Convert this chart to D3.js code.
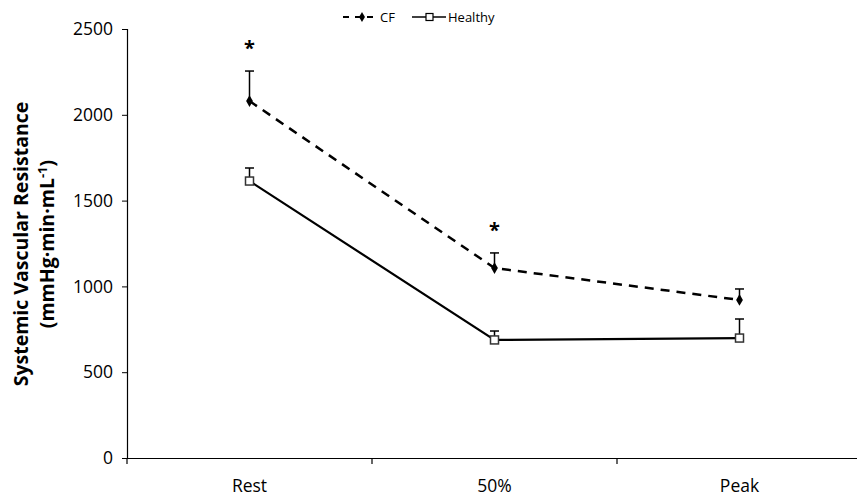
<!DOCTYPE html>
<html>
<head>
<meta charset="utf-8">
<script src="https://cdn.jsdelivr.net/npm/d3@7"></script>
<style>
  body { margin: 0; background: #fff; }
  text { font-family: "Open Sans", sans-serif; }
</style>
</head>
<body>
<div id="chart"></div>
<script>
var categories = ["Rest", "50%", "Peak"];
var cfValues = [2080, 1107, 921];
var cfErrors = [175, 88, 64];
var healthyValues = [1614, 688, 699];
var healthyErrors = [76, 52, 111];
var significant = [true, true, false];
var yTicks = [0, 500, 1000, 1500, 2000, 2500];

var width = 857, height = 502;

var svg = d3.select("#chart").append("svg")
    .attr("width", width)
    .attr("height", height);

var x = d3.scaleBand()
    .domain(categories)
    .range([127, 862]);

var y = d3.scaleLinear()
    .domain([0, 2500])
    .range([458, 29]);

// axes
var yAxis = svg.append("g")
    .attr("transform", "translate(127,0)")
    .call(d3.axisLeft(y).tickValues(yTicks).tickFormat(d3.format("d")).tickSize(5).tickPadding(9));
yAxis.select(".domain").attr("stroke", "#000").attr("stroke-width", 1.2);
yAxis.selectAll("text").style("font-size", "17.5px").attr("fill", "#000");

var xAxis = svg.append("g")
    .attr("transform", "translate(0,458)")
    .call(d3.axisBottom(x).tickSize(0).tickPadding(22));
xAxis.select(".domain").attr("stroke", "#000").attr("stroke-width", 1.2);
xAxis.selectAll("text").style("font-size", "17.5px").attr("fill", "#000");

// category boundary ticks
svg.append("g").selectAll("line")
    .data(categories)
    .join("line")
    .attr("x1", function (d) { return x(d); })
    .attr("x2", function (d) { return x(d); })
    .attr("y1", 458)
    .attr("y2", 464)
    .attr("stroke", "#000")
    .attr("stroke-width", 1.2);

// y title
var title = svg.append("text")
    .attr("transform", "translate(28,244) rotate(-90)")
    .attr("text-anchor", "middle")
    .style("font-size", "19.5px")
    .style("font-weight", "bold");
title.append("tspan").attr("x", 0).attr("dy", 0).text("Systemic Vascular Resistance");
var t2 = title.append("tspan").attr("x", 0).attr("dy", 26).text("(mmHg·min·mL");
title.append("tspan").attr("dy", -7).style("font-size", "13px").text("-1");
title.append("tspan").attr("dy", 7).text(")");

var cx = function (d, i) { return x(categories[i]) + x.bandwidth() / 2; };

function errorBars(values, errors) {
    var g = svg.append("g").attr("stroke", "#000").attr("stroke-width", 1.5);
    values.forEach(function (v, i) {
        var px = cx(null, i);
        g.append("line").attr("x1", px).attr("x2", px)
            .attr("y1", y(v)).attr("y2", y(v + errors[i]));
        g.append("line").attr("x1", px - 4.5).attr("x2", px + 4.5)
            .attr("y1", y(v + errors[i])).attr("y2", y(v + errors[i]));
    });
}
errorBars(cfValues, cfErrors);
errorBars(healthyValues, healthyErrors);

var line = d3.line()
    .x(function (d, i) { return cx(d, i); })
    .y(function (d) { return y(d); });

svg.append("path")
    .datum(cfValues)
    .attr("d", line)
    .attr("fill", "none")
    .attr("stroke", "#000")
    .attr("stroke-width", 2.5)
    .attr("stroke-dasharray", "9,7");

svg.append("path")
    .datum(healthyValues)
    .attr("d", line)
    .attr("fill", "none")
    .attr("stroke", "#000")
    .attr("stroke-width", 2.2);

// markers
svg.append("g").selectAll("path")
    .data(cfValues)
    .join("path")
    .attr("transform", function (d, i) { return "translate(" + cx(d, i) + "," + y(d) + ")"; })
    .attr("d", d3.symbol(d3.symbolDiamond, 40))
    .attr("fill", "#000");

svg.append("g").selectAll("rect")
    .data(healthyValues)
    .join("rect")
    .attr("x", function (d, i) { return cx(d, i) - 4; })
    .attr("y", function (d) { return y(d) - 4; })
    .attr("width", 8)
    .attr("height", 8)
    .attr("fill", "#fff")
    .attr("stroke", "#333")
    .attr("stroke-width", 1.5);

// significance stars
svg.append("g").selectAll("text")
    .data(cfValues)
    .join("text")
    .filter(function (d, i) { return significant[i]; })
    .attr("x", function (d, i) { return cx(d, i); })
    .attr("y", function (d, i) { return y(d + cfErrors[i]) - 16; })
    .attr("text-anchor", "middle")
    .style("font-size", "20px")
    .style("font-weight", "bold")
    .text("*");

// legend
var legend = svg.append("g").attr("transform", "translate(343,17)");
legend.append("line").attr("x1", 0).attr("x2", 34).attr("y1", 0).attr("y2", 0)
    .attr("stroke", "#000").attr("stroke-width", 2).attr("stroke-dasharray", "6,6");
legend.append("path").attr("transform", "translate(19,0)")
    .attr("d", d3.symbol(d3.symbolDiamond, 30)).attr("fill", "#000");
legend.append("text").attr("x", 37).attr("y", 5).style("font-size", "13px").text("CF");
legend.append("line").attr("x1", 69).attr("x2", 103).attr("y1", 0).attr("y2", 0)
    .attr("stroke", "#000").attr("stroke-width", 1.5);
legend.append("rect").attr("x", 83).attr("y", -3.5).attr("width", 7).attr("height", 7)
    .attr("fill", "#fff").attr("stroke", "#000").attr("stroke-width", 1.2);
legend.append("text").attr("x", 105).attr("y", 5).style("font-size", "13px").text("Healthy");
</script>
</body>
</html>
